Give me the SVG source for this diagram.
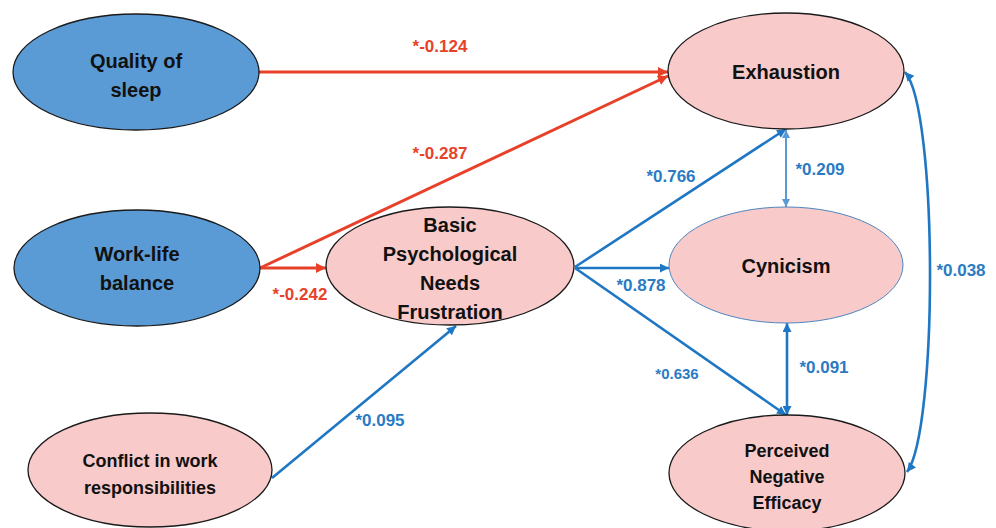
<svg xmlns="http://www.w3.org/2000/svg" width="996" height="528" viewBox="0 0 996 528">
<style>
.blue{fill:#5b9bd5;stroke:#1a1a1a;stroke-width:1.3}
.pink{fill:#f8cbca;stroke:#1a1a1a;stroke-width:1.3}
.pinkb{fill:#f8cbca;stroke:#4f86c0;stroke-width:1}
.t{font-family:"Liberation Sans",Arial,sans-serif;font-weight:bold;font-size:20px;fill:#111;text-anchor:middle}
.ts{font-size:18px}
.lr{font-family:"Liberation Sans",Arial,sans-serif;font-weight:bold;font-size:17px;fill:#e8412a}
.lb{font-family:"Liberation Sans",Arial,sans-serif;font-weight:bold;font-size:17px;fill:#2a7bc4}
.cr{fill:none;stroke:#e8412a;stroke-width:3}
.cb{fill:none;stroke:#1f77c4;stroke-width:2.6}
.cl{fill:none;stroke:#5b9bd5;stroke-width:2}
</style>
<defs>
<marker id="ar" viewBox="0 0 10 10" refX="10" refY="5" markerWidth="12" markerHeight="10" markerUnits="userSpaceOnUse" orient="auto-start-reverse"><path d="M0,0 L10,5 L0,10 z" fill="#e8412a"/></marker>
<marker id="ab" viewBox="0 0 10 10" refX="10" refY="5" markerWidth="11" markerHeight="9" markerUnits="userSpaceOnUse" orient="auto-start-reverse"><path d="M0,0 L10,5 L0,10 z" fill="#1f77c4"/></marker>
<marker id="al" viewBox="0 0 10 10" refX="10" refY="5" markerWidth="10" markerHeight="8" markerUnits="userSpaceOnUse" orient="auto-start-reverse"><path d="M0,0 L10,5 L0,10 z" fill="#5b9bd5"/></marker>
</defs>
<rect width="996" height="528" fill="#fff"/>
<g id="connectors">
<line class="cr" x1="259" y1="72" x2="668" y2="72" marker-end="url(#ar)"/>
<line class="cr" x1="260" y1="268" x2="668" y2="76" marker-end="url(#ar)"/>
<line class="cr" x1="260" y1="268" x2="326" y2="268" marker-end="url(#ar)"/>
<line class="cb" x1="575" y1="267" x2="786" y2="129" marker-end="url(#ab)"/>
<line class="cb" x1="575" y1="268" x2="669" y2="268" marker-end="url(#ab)"/>
<line class="cb" x1="575" y1="268" x2="786" y2="415" marker-end="url(#ab)"/>
<line class="cl" x1="786" y1="130" x2="786" y2="207" marker-start="url(#al)" marker-end="url(#al)"/>
<line class="cb" x1="787" y1="323" x2="787" y2="415" marker-start="url(#ab)" marker-end="url(#ab)"/>
<path class="cb" d="M905,72 C938,110 938,430 907,472" marker-start="url(#ab)" marker-end="url(#ab)"/>
<line class="cb" x1="272" y1="478" x2="456" y2="326" marker-end="url(#ab)"/>
<text class="lr" x="440" y="52" text-anchor="middle">*-0.124</text>
<text class="lr" x="440" y="159" text-anchor="middle">*-0.287</text>
<text class="lr" x="300" y="300" text-anchor="middle">*-0.242</text>
<text class="lb" x="671" y="182" text-anchor="middle">*0.766</text>
<text class="lb" x="820" y="175" text-anchor="middle">*0.209</text>
<text class="lb" x="641" y="291" text-anchor="middle">*0.878</text>
<text class="lb" x="677" y="379" text-anchor="middle" style="font-size:15px">*0.636</text>
<text class="lb" x="824" y="373" text-anchor="middle">*0.091</text>
<text class="lb" x="961" y="276" text-anchor="middle">*0.038</text>
<text class="lb" x="380" y="426" text-anchor="middle">*0.095</text>
</g>
<g id="quality-of-sleep">
<ellipse class="blue" cx="136" cy="72" rx="123" ry="58"/>
<text class="t" x="136" y="68">Quality of</text>
<text class="t" x="136" y="97">sleep</text>
</g>
<g id="work-life-balance">
<ellipse class="blue" cx="137" cy="268" rx="123" ry="58"/>
<text class="t" x="137" y="261">Work-life</text>
<text class="t" x="137" y="290">balance</text>
</g>
<g id="conflict">
<ellipse class="pink" cx="150" cy="470" rx="122" ry="57"/>
<text class="t ts" x="150" y="467">Conflict in work</text>
<text class="t ts" x="150" y="494">responsibilities</text>
</g>
<g id="bpnf">
<ellipse class="pink" cx="450" cy="266" rx="124" ry="59"/>
<text class="t" x="450" y="232">Basic</text>
<text class="t" x="450" y="261">Psychological</text>
<text class="t" x="450" y="290">Needs</text>
<text class="t" x="450" y="319">Frustration</text>
</g>
<g id="exhaustion">
<ellipse class="pink" cx="786" cy="71" rx="118" ry="58"/>
<text class="t" x="786" y="79">Exhaustion</text>
</g>
<g id="cynicism">
<ellipse class="pinkb" cx="786" cy="265" rx="117" ry="58"/>
<text class="t" x="786" y="273">Cynicism</text>
</g>
<g id="pne">
<ellipse class="pink" cx="787" cy="473" rx="118" ry="58"/>
<text class="t ts" x="787" y="457">Perceived</text>
<text class="t ts" x="787" y="483">Negative</text>
<text class="t ts" x="787" y="509">Efficacy</text>
</g>
</svg>
